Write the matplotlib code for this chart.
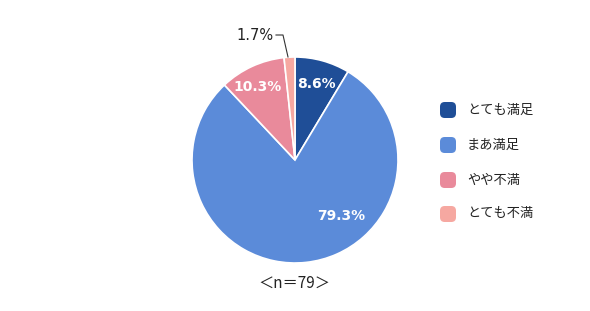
import matplotlib
matplotlib.use("Agg")
import matplotlib.pyplot as plt
from matplotlib.patches import FancyBboxPatch

plt.rcParams['font.family'] = ['Noto Sans CJK JP', 'DejaVu Sans']

categories = ["とても満足", "まあ満足", "やや不満", "とても不満"]
values = [8.6, 79.3, 10.3, 1.7]
labels = ["8.6%", "79.3%", "10.3%", "1.7%"]
colors = ["#1F4E97", "#5B8BD9", "#E98A9B", "#F6A8A1"]
n_label = "＜n＝79＞"

W, H = 590, 311
fig = plt.figure(figsize=(W / 100, H / 100), dpi=100)
cx, cy, r = 295, 160, 103
ax = fig.add_axes([(cx - r) / W, (H - cy - r) / H, 2 * r / W, 2 * r / H])
ax.pie(values, colors=colors, startangle=90, counterclock=False, radius=1,
       wedgeprops=dict(edgecolor="white", linewidth=1.2))
ax.set_xlim(-1, 1)
ax.set_ylim(-1, 1)
ax.set_aspect("equal")
ax.axis("off")

def d(px, py):
    return ((px - cx) / r, (cy - py) / r)

label_pos = [d(316, 84), d(341, 216), d(258, 87), d(255, 36)]
for i, (lab, pos) in enumerate(zip(labels, label_pos)):
    if i < 3:
        ax.text(*pos, lab, color="white", fontsize=10, fontweight="bold",
                family="DejaVu Sans", ha="center", va="center", clip_on=False)
    else:
        ax.text(*pos, lab, color="#222222", fontsize=10.5,
                family="DejaVu Sans", ha="center", va="center", clip_on=False)

p1, p2, p3 = d(276, 35), d(283, 35), d(288, 57)
ax.plot([p1[0], p2[0], p3[0]], [p1[1], p2[1], p3[1]], color="#333333",
        linewidth=0.8, clip_on=False)

fig.text(294 / W, 1 - 283 / H, n_label, fontsize=11, ha="center", va="center",
         color="#222222")

ys = [110, 145, 180, 214]
for cat, col, y in zip(categories, colors, ys):
    s = 16
    box = FancyBboxPatch(((448 - s / 2) / W, 1 - (y + s / 2) / H), s / W, s / H,
                         boxstyle="round,pad=0,rounding_size=0.008",
                         transform=fig.transFigure, facecolor=col,
                         edgecolor="none", mutation_aspect=W / H)
    fig.add_artist(box)
    fig.text(467 / W, 1 - y / H, cat, fontsize=9.5, ha="left", va="center",
             color="#222222")

fig.savefig("out.png", dpi=100)
